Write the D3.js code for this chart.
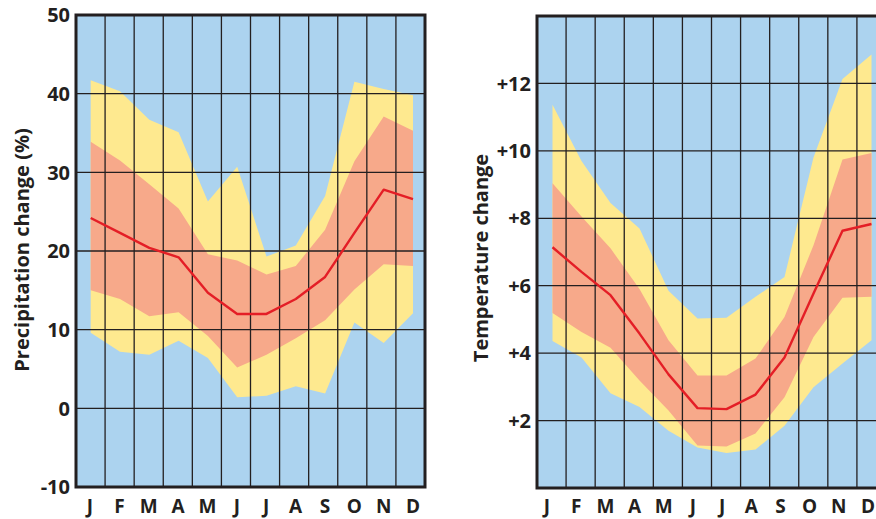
<!DOCTYPE html>
<html>
<head>
<meta charset="utf-8">
<script src="https://cdn.jsdelivr.net/npm/d3@7"></script>
<style>
  body { margin: 0; background: #ffffff; }
  svg { display: block; font-family: "Open Sans", "DejaVu Sans", sans-serif; }
</style>
</head>
<body>
<div id="chart"></div>
<script>
const months = ["J", "F", "M", "A", "M", "J", "J", "A", "S", "O", "N", "D"];

// precipitation change (%)
const precipTicks = [50, 40, 30, 20, 10, 0, -10];
const precipYellowHi = [41.7, 40.3, 36.7, 35.1, 26.3, 30.7, 19.3, 20.7, 27.0, 41.5, 40.6, 39.8];
const precipSalmonHi = [33.9, 31.5, 28.5, 25.4, 19.6, 18.8, 17.0, 18.1, 22.7, 31.4, 37.1, 35.3];
const precipMean     = [24.2, 22.3, 20.4, 19.2, 14.7, 12.0, 12.0, 13.9, 16.7, 22.3, 27.8, 26.6];
const precipSalmonLo = [15.0, 13.9, 11.7, 12.2, 9.2, 5.2, 6.8, 8.9, 11.2, 15.1, 18.3, 18.1];
const precipYellowLo = [9.6, 7.2, 6.8, 8.6, 6.4, 1.4, 1.6, 2.8, 1.9, 10.9, 8.3, 12.1];

// temperature change
const tempTicks = [12, 10, 8, 6, 4, 2];
const tempYellowHi = [11.37, 9.7, 8.45, 7.7, 5.85, 5.03, 5.05, 5.67, 6.26, 9.8, 12.13, 12.86];
const tempSalmonHi = [9.04, 8.05, 7.11, 5.9, 4.38, 3.34, 3.34, 3.84, 5.07, 7.2, 9.74, 9.94];
const tempMean     = [7.14, 6.41, 5.72, 4.58, 3.37, 2.37, 2.34, 2.77, 3.87, 5.77, 7.63, 7.83];
const tempSalmonLo = [5.19, 4.63, 4.16, 3.19, 2.3, 1.26, 1.23, 1.62, 2.69, 4.48, 5.64, 5.67];
const tempYellowLo = [4.36, 3.87, 2.81, 2.4, 1.7, 1.2, 1.04, 1.14, 1.85, 2.99, 3.69, 4.38];

const width = 876, height = 519;
const blue = "#acd3ef", yellow = "#fee98f", salmon = "#f7a98a", red = "#e41e26", ink = "#231f20";

const svg = d3.select("#chart")
    .append("svg")
    .attr("width", width)
    .attr("height", height);

function drawPanel(opt) {
    // grid columns
    const x = d3.scaleBand()
        .domain(d3.range(12))
        .range([opt.left, opt.right]);
    // data points and month labels
    const px = d3.scalePoint().domain(d3.range(12)).range(opt.dataRange);
    const lx = d3.scalePoint().domain(d3.range(12)).range(opt.labelRange);
    const y = d3.scaleLinear()
        .domain(opt.domain)
        .range([opt.bottom, opt.top]);

    const g = svg.append("g");

    g.append("rect")
        .attr("x", opt.left).attr("y", opt.top)
        .attr("width", opt.right - opt.left).attr("height", opt.bottom - opt.top)
        .attr("fill", blue);

    const band = (hi, lo) => d3.area()
        .x((d, i) => px(i))
        .y0((d, i) => y(lo[i]))
        .y1(d => y(d))(hi);

    g.append("path").attr("d", band(opt.yHi, opt.yLo)).attr("fill", yellow);
    g.append("path").attr("d", band(opt.sHi, opt.sLo)).attr("fill", salmon);

    // grid
    g.append("g")
        .selectAll("line")
        .data(d3.range(1, 12))
        .join("line")
        .attr("x1", d => x(d)).attr("x2", d => x(d))
        .attr("y1", opt.top).attr("y2", opt.bottom)
        .attr("stroke", ink).attr("stroke-width", 1.3);

    g.append("g")
        .selectAll("line")
        .data(opt.grid)
        .join("line")
        .attr("x1", opt.left).attr("x2", opt.right)
        .attr("y1", d => y(d)).attr("y2", d => y(d))
        .attr("stroke", ink).attr("stroke-width", 1.3);

    g.append("path")
        .datum(opt.mean)
        .attr("d", d3.line().x((d, i) => px(i)).y(d => y(d)))
        .attr("fill", "none")
        .attr("stroke", red)
        .attr("stroke-width", 2.4)
        .attr("stroke-linejoin", "round");

    // frame
    g.append("rect")
        .attr("x", opt.left).attr("y", opt.top)
        .attr("width", opt.right - opt.left).attr("height", opt.bottom - opt.top)
        .attr("fill", "none")
        .attr("stroke", ink)
        .attr("stroke-width", 3);

    // y axis labels
    g.append("g")
        .selectAll("text")
        .data(opt.ticks)
        .join("text")
        .attr("x", opt.left - 6)
        .attr("y", d => y(d))
        .attr("dy", "0.36em")
        .attr("text-anchor", "end")
        .attr("font-size", 20)
        .attr("font-weight", 700)
        .attr("fill", ink)
        .text(opt.fmt);

    // month labels
    g.append("g")
        .selectAll("text")
        .data(months)
        .join("text")
        .attr("x", (d, i) => lx(i))
        .attr("y", 513)
        .attr("text-anchor", "middle")
        .attr("font-size", 19)
        .attr("font-weight", 700)
        .attr("fill", ink)
        .text(d => d);

    g.append("text")
        .attr("transform", "translate(" + opt.titleX + "," + opt.titleY + ") rotate(-90)")
        .attr("text-anchor", "middle")
        .attr("font-size", 20)
        .attr("font-weight", 700)
        .attr("fill", ink)
        .text(opt.title);
}

drawPanel({
    left: 76, right: 425, top: 15, bottom: 487,
    dataRange: [90.7, 413], labelRange: [90, 413],
    domain: [-10, 50],
    grid: [40, 30, 20, 10, 0],
    ticks: precipTicks,
    fmt: d => d,
    yHi: precipYellowHi, yLo: precipYellowLo,
    sHi: precipSalmonHi, sLo: precipSalmonLo,
    mean: precipMean,
    title: "Precipitation change (%)",
    titleX: 29, titleY: 250
});

drawPanel({
    left: 537, right: 886, top: 16, bottom: 488,
    dataRange: [552.5, 871.5], labelRange: [547, 868],
    domain: [0, 14],
    grid: [12, 10, 8, 6, 4, 2],
    ticks: tempTicks,
    fmt: d => "+" + d,
    yHi: tempYellowHi, yLo: tempYellowLo,
    sHi: tempSalmonHi, sLo: tempSalmonLo,
    mean: tempMean,
    title: "Temperature change",
    titleX: 488, titleY: 258
});
</script>
</body>
</html>
